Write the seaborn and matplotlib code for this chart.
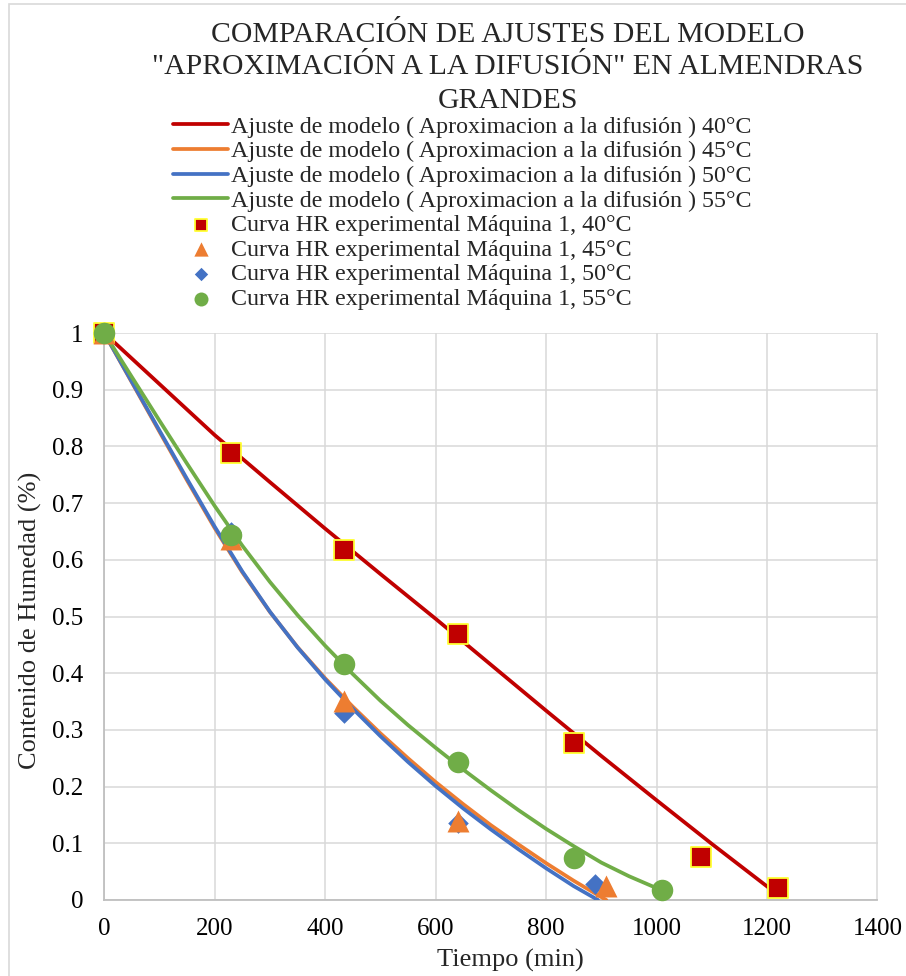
import matplotlib
matplotlib.use("Agg")
import matplotlib.pyplot as plt
from matplotlib.patches import Rectangle
import pandas as pd
import seaborn as sns


# model fit curves (t in min, moisture ratio)
time_fit_40 = [0, 100, 200, 300, 400, 500, 600, 700, 800, 900, 1000, 1100, 1200, 1217]
mr_fit_40 = [1.0, 0.91, 0.82, 0.737, 0.655, 0.575, 0.496, 0.415, 0.334, 0.254, 0.176, 0.099, 0.024, 0.012]

time_fit_45 = [0, 50, 100, 150, 200, 250, 300, 350, 400, 450, 500, 550, 600, 650, 700,
               750, 800, 850, 909]
mr_fit_45 = [1.0, 0.913, 0.826, 0.740, 0.656, 0.578, 0.508, 0.446, 0.391, 0.341, 0.294,
             0.250, 0.208, 0.169, 0.132, 0.098, 0.065, 0.034, 0.0]

time_fit_50 = [0, 50, 100, 150, 200, 250, 300, 350, 400, 450, 500, 550, 600, 650, 700,
               750, 800, 850, 894]
mr_fit_50 = [1.0, 0.914, 0.828, 0.7425, 0.6585, 0.5795, 0.5085, 0.4455, 0.389, 0.3375,
             0.289, 0.2435, 0.201, 0.1615, 0.1245, 0.0895, 0.056, 0.0245, 0.0]

time_fit_55 = [0, 50, 100, 150, 200, 250, 300, 350, 400, 450, 500, 550, 600, 650, 700,
               750, 800, 850, 900, 950, 1000, 1012]
mr_fit_55 = [1.0, 0.9225, 0.8455, 0.7695, 0.695, 0.625, 0.561, 0.5025, 0.4485, 0.3985,
             0.3515, 0.3085, 0.2685, 0.230, 0.1935, 0.1585, 0.1255, 0.095, 0.066, 0.042,
             0.021, 0.017]

# experimental points
time_40 = [0, 230, 435, 640, 850, 1080, 1220]
hr_40 = [1.0, 0.788, 0.617, 0.470, 0.277, 0.076, 0.021]

time_45 = [0, 230, 435, 640, 908]
hr_45 = [1.0, 0.637, 0.351, 0.139, 0.025]

time_50 = [0, 230, 435, 640, 888]
hr_50 = [1.0, 0.649, 0.330, 0.1365, 0.028]

time_55 = [0, 230, 435, 640, 850, 1010]
hr_55 = [1.0, 0.644, 0.417, 0.244, 0.0735, 0.017]

temps = ["40", "45", "50", "55"]
x_ticks = [0, 200, 400, 600, 800, 1000, 1200, 1400]
y_ticks = [0, 0.1, 0.2, 0.3, 0.4, 0.5, 0.6, 0.7, 0.8, 0.9, 1]
y_tick_labels = ["0", "0.1", "0.2", "0.3", "0.4", "0.5", "0.6", "0.7", "0.8", "0.9", "1"]

title_lines = [
    "COMPARACIÓN DE AJUSTES DEL MODELO",
    "\"APROXIMACIÓN A LA DIFUSIÓN\" EN ALMENDRAS",
    "GRANDES",
]

COLORS = {"40": "#C00000", "45": "#ED7D31", "50": "#4472C4", "55": "#70AD47"}

W, H = 906, 976


def fx(px):
    return px / W


def fy(py):
    return 1 - py / H


def main() -> None:
    sns.set_theme(style="whitegrid")
    plt.rcParams["font.family"] = ["Liberation Serif", "DejaVu Serif"]

    fig = plt.figure(figsize=(W / 100, H / 100), dpi=100)
    fig.patch.set_facecolor("white")
    fig.patches.append(Rectangle((fx(8.5), fy(1200)), 2, fy(4.5) - fy(1200),
                                 transform=fig.transFigure, fill=False,
                                 edgecolor="#D9D9D9", linewidth=1.2))

    ax = fig.add_axes([fx(104.2), fy(900), fx(877.5) - fx(104.2), fy(333) - fy(900)])
    ax.set_facecolor("white")

    fits = {
        "40": (time_fit_40, mr_fit_40),
        "45": (time_fit_45, mr_fit_45),
        "50": (time_fit_50, mr_fit_50),
        "55": (time_fit_55, mr_fit_55),
    }
    for t in temps:
        df = pd.DataFrame({"t": fits[t][0], "mr": fits[t][1]})
        sns.lineplot(data=df, x="t", y="mr", ax=ax, color=COLORS[t], linewidth=2.7,
                     sort=False, zorder=2,
                     label=f"Ajuste de modelo ( Aproximacion a la difusión ) {t}°C")

    points = {
        "40": (time_40, hr_40, "s", 190, "#FFFF33", 1.3, 3.0),
        "45": (time_45, hr_45, "^", 250, COLORS["45"], 0, 4.0),
        "50": (time_50, hr_50, "D", 110, COLORS["50"], 0, 3.5),
        "55": (time_55, hr_55, "o", 240, COLORS["55"], 0, 5.0),
    }
    for t in temps:
        xs, ys, mk, size, ec, lw, z = points[t]
        df = pd.DataFrame({"t": xs, "hr": ys})
        sns.scatterplot(data=df, x="t", y="hr", ax=ax, marker=mk, s=size,
                        color=COLORS[t], edgecolor=ec, linewidth=lw, zorder=z,
                        clip_on=False,
                        label=f"Curva HR experimental Máquina 1, {t}°C")

    ax.set_xlim(0, 1400)
    ax.set_ylim(0, 1)
    ax.set_xticks(x_ticks)
    ax.set_xticklabels([str(v) for v in x_ticks])
    ax.set_yticks(y_ticks)
    ax.set_yticklabels(y_tick_labels)
    ax.tick_params(axis="both", length=0, labelsize=18, colors="black")
    ax.tick_params(axis="x", pad=13)
    ax.tick_params(axis="y", pad=15)
    ax.grid(True, color="#D9D9D9", linewidth=1.1)
    for side in ["top", "right"]:
        ax.spines[side].set_visible(False)
    for side in ["left", "bottom"]:
        ax.spines[side].set_color("#BFBFBF")
        ax.spines[side].set_linewidth(1.3)
        ax.spines[side].set_zorder(1.5)
    ax.set_xlabel("")
    ax.set_ylabel("")

    fig.text(fx(510), fy(960), "Tiempo (min)", fontsize=19, ha="center", va="center")
    fig.text(fx(30), fy(620), "Contenido de Humedad (%)", fontsize=19,
             ha="center", va="center", rotation=90)

    for line, base in zip(title_lines, [41.7, 74.5, 107.5]):
        fig.text(fx(508), fy(base), line, fontsize=21.4, ha="center", va="baseline")

    handles, labels = ax.get_legend_handles_labels()
    leg = ax.legend(handles, labels, loc="upper left",
                    bbox_to_anchor=(fx(173), fy(116)), bbox_transform=fig.transFigure,
                    frameon=False, fontsize=17.3, borderpad=0, borderaxespad=0,
                    handlelength=2.29, handletextpad=0.13, labelspacing=0.115,
                    markerscale=0.65)
    for h in leg.legend_handles[:4]:
        h.set_linewidth(2.7)

    fig.savefig("out.png", dpi=100, facecolor="white")
    plt.close(fig)


if __name__ == "__main__":
    main()
